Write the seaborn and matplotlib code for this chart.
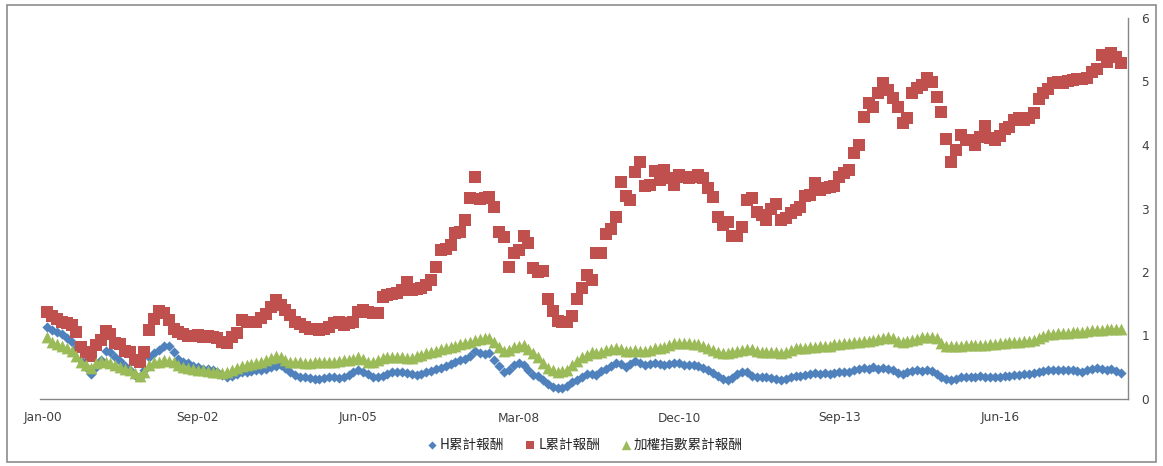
import matplotlib
matplotlib.use("Agg")
import matplotlib.pyplot as plt
from matplotlib.patches import Rectangle
import pandas as pd
import seaborn as sns

# Monthly cumulative returns, Feb-2000 onwards
start_month = "2000-02"

h_cum = [
    1.13, 1.09, 1.06, 1.02, 0.96, 0.90, 0.80, 0.62, 0.50, 0.40,
    0.50, 0.62, 0.76, 0.74, 0.66, 0.60, 0.52, 0.45, 0.38, 0.35,
    0.45, 0.66, 0.72, 0.77, 0.83, 0.84, 0.74, 0.63, 0.58, 0.57,
    0.52, 0.50, 0.48, 0.47, 0.45, 0.42, 0.38, 0.34, 0.36, 0.40,
    0.42, 0.43, 0.44, 0.45, 0.46, 0.48, 0.50, 0.52, 0.53, 0.49,
    0.43, 0.38, 0.35, 0.34, 0.33, 0.32, 0.31, 0.33, 0.35, 0.34,
    0.33, 0.35, 0.38, 0.42, 0.45, 0.42, 0.39, 0.35, 0.34, 0.37,
    0.39, 0.42, 0.43, 0.42, 0.41, 0.40, 0.38, 0.39, 0.42, 0.44,
    0.47, 0.49, 0.52, 0.55, 0.58, 0.61, 0.63, 0.67, 0.75, 0.72,
    0.71, 0.72, 0.62, 0.52, 0.42, 0.45, 0.54, 0.57, 0.53, 0.45,
    0.38, 0.37, 0.30, 0.23, 0.19, 0.18, 0.17, 0.21, 0.26, 0.30,
    0.34, 0.39, 0.40, 0.38, 0.44, 0.48, 0.52, 0.57, 0.55, 0.50,
    0.55, 0.60, 0.57, 0.53, 0.55, 0.57, 0.55, 0.54, 0.55, 0.56,
    0.56, 0.54, 0.53, 0.53, 0.52, 0.49, 0.45, 0.41, 0.37, 0.32,
    0.30, 0.33, 0.39, 0.43, 0.42, 0.36, 0.35, 0.35, 0.34, 0.33,
    0.32, 0.30, 0.31, 0.34, 0.36, 0.37, 0.38, 0.40, 0.41, 0.40,
    0.41, 0.40, 0.41, 0.42, 0.43, 0.43, 0.45, 0.47, 0.49, 0.48,
    0.50, 0.48, 0.49, 0.47, 0.45, 0.41, 0.40, 0.42, 0.44, 0.45,
    0.44, 0.45, 0.44, 0.40, 0.34, 0.31, 0.30, 0.32, 0.34, 0.35,
    0.34, 0.35, 0.36, 0.35, 0.34, 0.35, 0.35, 0.36, 0.37, 0.38,
    0.38, 0.39, 0.40, 0.41, 0.43, 0.44, 0.45, 0.46, 0.45, 0.46,
    0.46, 0.45, 0.44, 0.43, 0.45, 0.47, 0.49, 0.47, 0.45, 0.47,
    0.44, 0.41,
]

l_cum = [
    1.37, 1.30, 1.26, 1.22, 1.20, 1.17, 1.05, 0.82, 0.74, 0.68,
    0.85, 0.93, 1.07, 1.02, 0.88, 0.87, 0.75, 0.74, 0.62, 0.58,
    0.74, 1.08, 1.26, 1.38, 1.35, 1.25, 1.10, 1.05, 1.02, 1.00,
    1.00, 1.01, 0.98, 0.99, 0.98, 0.96, 0.90, 0.88, 0.97, 1.04,
    1.24, 1.22, 1.21, 1.21, 1.28, 1.34, 1.45, 1.56, 1.48, 1.40,
    1.32, 1.22, 1.18, 1.14, 1.11, 1.10, 1.09, 1.10, 1.14, 1.19,
    1.21, 1.17, 1.20, 1.22, 1.37, 1.40, 1.37, 1.35, 1.36, 1.61,
    1.64, 1.66, 1.67, 1.72, 1.84, 1.72, 1.73, 1.75, 1.80, 1.87,
    2.08, 2.35, 2.36, 2.43, 2.62, 2.63, 2.82, 3.17, 3.50, 3.15,
    3.16, 3.18, 3.02, 2.63, 2.55, 2.08, 2.30, 2.35, 2.57, 2.46,
    2.06, 2.00, 2.02, 1.57, 1.39, 1.23, 1.21, 1.21, 1.31, 1.57,
    1.75, 1.95, 1.87, 2.30, 2.30, 2.60, 2.68, 2.87, 3.42, 3.20,
    3.13, 3.57, 3.73, 3.36, 3.37, 3.59, 3.45, 3.61, 3.48, 3.37,
    3.53, 3.50, 3.48, 3.50, 3.53, 3.48, 3.32, 3.18, 2.87, 2.74,
    2.79, 2.57, 2.57, 2.71, 3.13, 3.17, 2.95, 2.90, 2.82, 2.99,
    3.07, 2.82, 2.85, 2.93, 2.98, 3.03, 3.20, 3.21, 3.40, 3.29,
    3.32, 3.34, 3.36, 3.50, 3.56, 3.60, 3.87, 4.00, 4.44, 4.66,
    4.60, 4.82, 4.98, 4.87, 4.74, 4.60, 4.35, 4.42, 4.82, 4.90,
    4.94, 5.05, 5.00, 4.76, 4.52, 4.09, 3.73, 3.92, 4.16, 4.08,
    4.08, 4.00, 4.13, 4.30, 4.11, 4.08, 4.14, 4.25, 4.28, 4.39,
    4.42, 4.39, 4.42, 4.50, 4.72, 4.82, 4.88, 4.98, 5.00, 4.98,
    5.01, 5.02, 5.04, 5.04, 5.05, 5.15, 5.20, 5.42, 5.31, 5.45,
    5.39, 5.29,
]

idx_cum = [
    0.97, 0.90, 0.86, 0.83, 0.80, 0.76, 0.68, 0.58, 0.53, 0.49,
    0.57, 0.60, 0.59, 0.57, 0.54, 0.51, 0.48, 0.46, 0.41, 0.36,
    0.42, 0.54, 0.58, 0.58, 0.61, 0.60, 0.58, 0.54, 0.51, 0.49,
    0.48, 0.46, 0.45, 0.44, 0.43, 0.42, 0.41, 0.42, 0.46, 0.49,
    0.52, 0.54, 0.55, 0.57, 0.58, 0.61, 0.64, 0.67, 0.66, 0.61,
    0.59, 0.58, 0.58, 0.57, 0.57, 0.58, 0.58, 0.58, 0.59, 0.58,
    0.60, 0.61, 0.62, 0.63, 0.66, 0.63, 0.59, 0.58, 0.61, 0.65,
    0.66, 0.66, 0.66, 0.66, 0.65, 0.65, 0.67, 0.69, 0.72, 0.74,
    0.76, 0.78, 0.80, 0.82, 0.84, 0.86, 0.88, 0.90, 0.93, 0.95,
    0.96, 0.96, 0.90, 0.82, 0.75, 0.77, 0.82, 0.84, 0.85, 0.78,
    0.72, 0.66, 0.56, 0.49, 0.45, 0.43, 0.44, 0.46, 0.53, 0.60,
    0.66, 0.70, 0.74, 0.72, 0.74, 0.77, 0.78, 0.80, 0.79, 0.75,
    0.76, 0.77, 0.76, 0.75, 0.77, 0.80, 0.80, 0.82, 0.85, 0.88,
    0.88, 0.88, 0.88, 0.87, 0.86, 0.84, 0.80, 0.77, 0.74, 0.72,
    0.72, 0.74, 0.76, 0.77, 0.79, 0.78, 0.75, 0.74, 0.74, 0.74,
    0.74, 0.73, 0.74, 0.77, 0.80, 0.80, 0.81, 0.82, 0.82, 0.83,
    0.83, 0.84, 0.86, 0.87, 0.88, 0.88, 0.89, 0.90, 0.91, 0.92,
    0.93, 0.94, 0.96, 0.98, 0.96, 0.92, 0.90, 0.92, 0.93, 0.95,
    0.97, 0.98, 0.97, 0.96, 0.88, 0.84, 0.83, 0.83, 0.84, 0.85,
    0.85, 0.85, 0.85, 0.85, 0.86, 0.87, 0.88, 0.88, 0.89, 0.90,
    0.90, 0.91, 0.92, 0.93, 0.96, 0.99, 1.02, 1.03, 1.04, 1.04,
    1.04, 1.05, 1.05, 1.06, 1.07, 1.08, 1.09, 1.09, 1.10, 1.11,
    1.10, 1.10,
]

series_names = ["H累計報酬", "L累計報酬", "加權指數累計報酬"]
tick_labels = ["Jan-00", "Sep-02", "Jun-05", "Mar-08", "Dec-10", "Sep-13", "Jun-16"]
y_ticks = [0, 1, 2, 3, 4, 5, 6]

months = pd.period_range(start_month, periods=len(h_cum), freq="M")
df = pd.DataFrame({"month": months, series_names[0]: h_cum,
                   series_names[1]: l_cum, series_names[2]: idx_cum})
# months elapsed since Jan-2000 as the horizontal coordinate
df["m"] = (df["month"].dt.year - 2000) * 12 + df["month"].dt.month - 1

tick_dates = pd.to_datetime(tick_labels, format="%b-%y")
tick_pos = (tick_dates.year - 2000) * 12 + tick_dates.month - 1

sns.set_theme(style="white")
plt.rcParams["font.family"] = ["DejaVu Sans", "Noto Sans CJK TC"]

W, H = 1163, 466
fig = plt.figure(figsize=(W / 100, H / 100), dpi=100)
ax = fig.add_axes([40 / W, 67 / H, (1128 - 40) / W, (399 - 18) / H])

styles = [
    (series_names[0], "#4F81BD", "D", 27),
    (series_names[1], "#C0504D", "s", 64),
    (series_names[2], "#9BBB59", "^", 72),
]
for name, color, marker, size in styles:
    sns.scatterplot(data=df, x="m", y=name, ax=ax, color=color, marker=marker,
                    s=size, linewidth=0, label=name)

ax.set_xlim(-0.5, 223.4)
ax.set_ylim(0, 6)
ax.set_xticks(tick_pos)
ax.set_xticklabels(tick_labels)
ax.set_yticks(y_ticks)
ax.yaxis.tick_right()
ax.set_xlabel("")
ax.set_ylabel("")
ax.tick_params(axis="x", length=0, pad=9, labelsize=8.7, labelcolor="#404040")
ax.tick_params(axis="y", length=0, pad=9.5, labelsize=8.7, labelcolor="#404040")

for side in ("left", "top"):
    ax.spines[side].set_visible(False)
for side in ("right", "bottom"):
    ax.spines[side].set_color("#868686")
    ax.spines[side].set_linewidth(1.0)

handles, labels = ax.get_legend_handles_labels()
ax.legend(handles, labels, loc="center", ncol=3, frameon=False,
          bbox_to_anchor=(585 / W, 21 / H), bbox_transform=fig.transFigure,
          prop={"family": ["Noto Sans CJK TC", "DejaVu Sans"], "size": 9.8},
          handlelength=0.7, handletextpad=0.25, columnspacing=1.55,
          markerscale=0.8, labelcolor="#262626")

# chart-area border
fig.patches.append(Rectangle((7 / W, 4 / H), (1156 - 7) / W, (461 - 4) / H,
                             transform=fig.transFigure, fill=False,
                             edgecolor="#8c8c8c", linewidth=1.2))

fig.savefig("out.png", dpi=100)
